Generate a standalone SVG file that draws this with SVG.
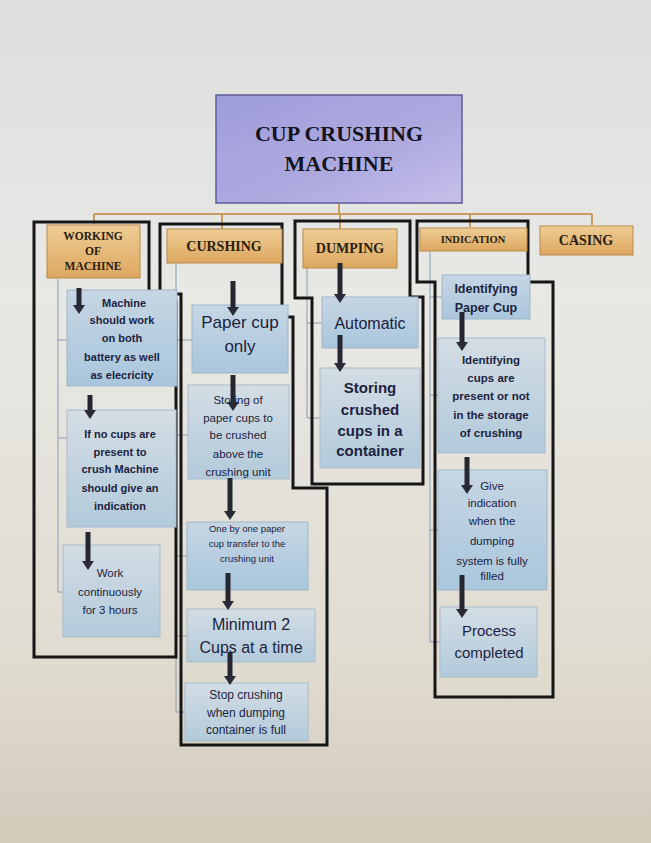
<svg xmlns="http://www.w3.org/2000/svg" width="651" height="843" viewBox="0 0 651 843">
<defs>
<linearGradient id="bg" x1="0" y1="0" x2="0" y2="1">
<stop offset="0" stop-color="#dedede"/><stop offset="0.35" stop-color="#e8e8e5"/><stop offset="0.8" stop-color="#e0dbcf"/><stop offset="1" stop-color="#d2cabb"/>
</linearGradient>
<linearGradient id="gTitle" x1="0" y1="0" x2="1" y2="1">
<stop offset="0" stop-color="#9f9ddb"/><stop offset="0.6" stop-color="#aeaae0"/><stop offset="1" stop-color="#c6c0ea"/>
</linearGradient>
<linearGradient id="gHead" x1="0" y1="0" x2="0" y2="1">
<stop offset="0" stop-color="#eecd95"/><stop offset="1" stop-color="#dca75f"/>
</linearGradient>
<linearGradient id="gBox" x1="0" y1="0" x2="0" y2="1">
<stop offset="0" stop-color="#c6d6e4"/><stop offset="1" stop-color="#a9c6dc"/>
</linearGradient>
<linearGradient id="gBox2" x1="0" y1="0" x2="0" y2="1">
<stop offset="0" stop-color="#d3dde4"/><stop offset="1" stop-color="#b2cadb"/>
</linearGradient>
<marker id="ah" markerWidth="9" markerHeight="12" refX="1" refY="6" orient="auto" markerUnits="userSpaceOnUse" viewBox="0 0 9 12">
<path d="M0,0 L9,6 L0,12 Z" fill="#2a2a38"/>
</marker>
</defs>
<style>
.title{font-family:"Liberation Serif","DejaVu Serif",serif;font-weight:bold;font-size:22px;fill:#14141c;text-anchor:middle}
.hd{font-family:"Liberation Serif","DejaVu Serif",serif;font-weight:bold;fill:#2a1e12;text-anchor:middle}
.tb{font-family:"Liberation Sans","Noto Sans",sans-serif;fill:#1c2340;text-anchor:middle}
.b{font-weight:bold}
.hbox{fill:url(#gHead);stroke:#b98a4a;stroke-width:1}
.cbox{fill:url(#gBox);stroke:#9fb6c8;stroke-width:1}
.cbox2{fill:url(#gBox2);stroke:#a9bccb;stroke-width:1}
.frame{fill:none;stroke:#161616;stroke-width:3;stroke-linejoin:miter}
.thin{fill:none;stroke:#8c9bb0;stroke-width:1}
.conn{fill:none;stroke:#c79a60;stroke-width:2}
.arr{stroke:#262630;stroke-width:5;marker-end:url(#ah)}
</style>
<rect x="0" y="0" width="651" height="843" fill="url(#bg)"/>

<g id="connectors">
<path class="conn" d="M339,204 V214 M94,214 H592 M94,214 V224 M222,214 V229 M340,214 V229 M470,214 V227 M592,214 V225"/>
<path class="thin" d="M58,279 V592 H66 M58,340 H67 M58,438 H67"/>
<path class="thin" d="M176,263 V712 H186 M176,340 H192 M176,435 H190 M176,556 H187 M176,636 H187"/>
<path class="thin" d="M307,268 V418 H320 M307,323 H322"/>
<path class="thin" d="M430,251 V642 H440 M430,297 H442 M430,395 H438 M430,530 H438"/>
</g>

<g id="frames">
<path class="frame" d="M34,222 H149 V302 H176 V657 H34 Z"/>
<path class="frame" d="M160,224 H282 V317 H293 V488 H327 V745 H181 V294 H160 Z"/>
<path class="frame" d="M295,221 H410 V297 H423 V484 H312 V298 H295 Z"/>
<path class="frame" d="M417,221 H528 V282 H553 V697 H435 V282 H417 Z"/>
</g>

<g id="title">
<rect x="216" y="95" width="246" height="108" style="fill:url(#gTitle)" stroke="#5c5c9c" stroke-width="1.5"/>
<text class="title" x="339" y="141">CUP CRUSHING</text>
<text class="title" x="339" y="171">MACHINE</text>
</g>

<g id="h-working">
<rect class="hbox" x="47" y="225" width="93" height="53"/>
<text class="hd" font-size="11.5" x="93" y="240">WORKING</text>
<text class="hd" font-size="11.5" x="93" y="255">OF</text>
<text class="hd" font-size="11.5" x="93" y="270">MACHINE</text>
</g>
<g id="h-curshing">
<rect class="hbox" x="167" y="229" width="115" height="34"/>
<text class="hd" font-size="14" x="224" y="251">CURSHING</text>
</g>
<g id="h-dumping">
<rect class="hbox" x="303" y="229" width="94" height="39"/>
<text class="hd" font-size="14" x="350" y="253">DUMPING</text>
</g>
<g id="h-indication">
<rect class="hbox" x="420" y="228" width="107" height="23"/>
<text class="hd" font-size="10.5" x="473" y="243">INDICATION</text>
</g>
<g id="h-casing">
<rect class="hbox" x="540" y="226" width="93" height="29"/>
<text class="hd" font-size="14" x="586" y="245">CASING</text>
</g>

<g id="w1">
<rect class="cbox" x="67" y="290" width="110" height="96"/>
<g class="tb b" font-size="11">
<text x="124" y="307">Machine</text>
<text x="122" y="324">should work</text>
<text x="122" y="342">on both</text>
<text x="122" y="361">battery as  well</text>
<text x="122" y="379">as elecricity</text>
</g>
</g>
<g id="w2">
<rect class="cbox2" x="67" y="410" width="109" height="117"/>
<g class="tb b" font-size="11">
<text x="120" y="438">If no cups are</text>
<text x="120" y="456">present to</text>
<text x="120" y="473">crush Machine</text>
<text x="120" y="492">should give an</text>
<text x="120" y="510">indication</text>
</g>
</g>
<g id="w3">
<rect class="cbox2" x="63" y="545" width="97" height="92"/>
<g class="tb" font-size="11.5">
<text x="110" y="577">Work</text>
<text x="110" y="596">continuously</text>
<text x="110" y="614">for 3 hours</text>
</g>
</g>

<g id="c1">
<rect class="cbox" x="192" y="305" width="96" height="68"/>
<g class="tb" font-size="17">
<text x="240" y="328">Paper cup</text>
<text x="240" y="352">only</text>
</g>
</g>
<g id="c2">
<rect class="cbox2" x="188" y="385" width="101" height="94"/>
<g class="tb" font-size="11.5">
<text x="238" y="404">Storing of</text>
<text x="238" y="422">paper cups to</text>
<text x="238" y="439">be crushed</text>
<text x="238" y="458">above the</text>
<text x="238" y="476">crushing unit</text>
</g>
</g>
<g id="c3">
<rect class="cbox" x="187" y="522" width="121" height="68"/>
<g class="tb" font-size="9.5">
<text x="247" y="532">One by one paper</text>
<text x="247" y="547">cup transfer to the</text>
<text x="247" y="562">crushing unit</text>
</g>
</g>
<g id="c4">
<rect class="cbox2" x="187" y="609" width="128" height="53"/>
<g class="tb" font-size="16">
<text x="251" y="630">Minimum 2</text>
<text x="251" y="653">Cups at a time</text>
</g>
</g>
<g id="c5">
<rect class="cbox2" x="185" y="683" width="123" height="58"/>
<g class="tb" font-size="12">
<text x="246" y="699">Stop crushing</text>
<text x="246" y="717">when dumping</text>
<text x="246" y="734">container is full</text>
</g>
</g>

<g id="d1">
<rect class="cbox" x="322" y="297" width="96" height="51"/>
<text class="tb" font-size="16" x="370" y="329">Automatic</text>
</g>
<g id="d2">
<rect class="cbox2" x="320" y="368" width="100" height="100"/>
<g class="tb b" font-size="15">
<text x="370" y="393">Storing</text>
<text x="370" y="415">crushed</text>
<text x="370" y="436">cups in a</text>
<text x="370" y="456">container</text>
</g>
</g>

<g id="i1">
<rect class="cbox" x="442" y="275" width="88" height="44"/>
<g class="tb b" font-size="12.5">
<text x="486" y="293">Identifying</text>
<text x="486" y="312">Paper Cup</text>
</g>
</g>
<g id="i2">
<rect class="cbox2" x="438" y="338" width="107" height="115"/>
<g class="tb b" font-size="11.5">
<text x="491" y="364">Identifying</text>
<text x="491" y="382">cups are</text>
<text x="491" y="400">present or not</text>
<text x="491" y="419">in the storage</text>
<text x="491" y="437">of crushing</text>
</g>
</g>
<g id="i3">
<rect class="cbox" x="438" y="470" width="109" height="120"/>
<g class="tb" font-size="11.5">
<text x="492" y="490">Give</text>
<text x="492" y="507">indication</text>
<text x="492" y="525">when the</text>
<text x="492" y="545">dumping</text>
<text x="492" y="565">system is fully</text>
<text x="492" y="580">filled</text>
</g>
</g>
<g id="i4">
<rect class="cbox2" x="440" y="607" width="97" height="70"/>
<g class="tb" font-size="15">
<text x="489" y="636">Process</text>
<text x="489" y="658">completed</text>
</g>
</g>

<g id="arrows">
<line class="arr" x1="79" y1="288" x2="79" y2="306"/>
<line class="arr" x1="90" y1="395" x2="90" y2="411"/>
<line class="arr" x1="88" y1="532" x2="88" y2="562"/>
<line class="arr" x1="233" y1="281" x2="233" y2="308"/>
<line class="arr" x1="233" y1="375" x2="233" y2="403"/>
<line class="arr" x1="230" y1="478" x2="230" y2="512"/>
<line class="arr" x1="228" y1="573" x2="228" y2="602"/>
<line class="arr" x1="230" y1="652" x2="230" y2="677"/>
<line class="arr" x1="340" y1="263" x2="340" y2="295"/>
<line class="arr" x1="340" y1="335" x2="340" y2="364"/>
<line class="arr" x1="462" y1="312" x2="462" y2="343"/>
<line class="arr" x1="467" y1="457" x2="467" y2="486"/>
<line class="arr" x1="462" y1="575" x2="462" y2="610"/>
</g>
</svg>
